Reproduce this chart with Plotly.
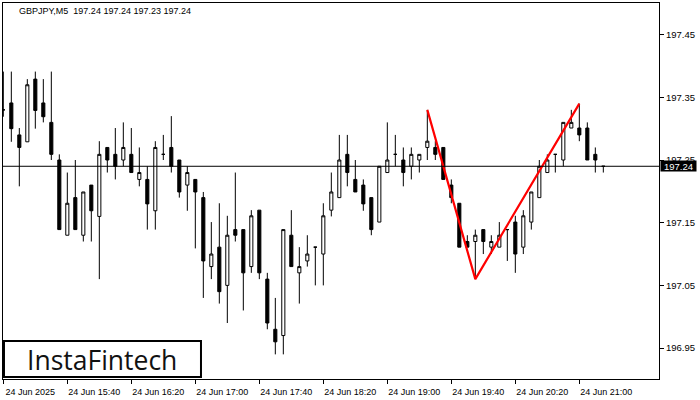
import plotly.graph_objects as go

# ---- data (GBPJPY M5, 24 Jun 2025, 15:00 .. 21:15) ----
bar_index = list(range(76))
opens = [197.330, 197.341, 197.290, 197.279, 197.379, 197.341, 197.310, 197.250, 197.130, 197.190,
         197.130, 197.210, 197.160, 197.270, 197.259, 197.250, 197.259, 197.219, 197.219, 197.169,
         197.259, 197.270, 197.250, 197.210, 197.219, 197.190, 197.080, 197.111, 197.050, 197.139,
         197.139, 197.080, 197.170, 197.060, 196.980, 196.970, 197.130, 197.070, 197.089, 197.111,
         197.100, 197.170, 197.190, 197.259, 197.219, 197.210, 197.190, 197.151, 197.230, 197.259,
         197.250, 197.240, 197.250, 197.270, 197.270, 197.270, 197.210, 197.181, 197.120, 197.120,
         197.139, 197.111, 197.111, 197.139, 197.151, 197.111, 197.151, 197.190, 197.230, 197.259,
         197.250, 197.301, 197.301, 197.301, 197.259, 197.240]
highs = [197.391, 197.391, 197.301, 197.379, 197.391, 197.379, 197.391, 197.259, 197.230, 197.250,
         197.199, 197.210, 197.280, 197.270, 197.301, 197.310, 197.301, 197.270, 197.240, 197.280,
         197.290, 197.320, 197.250, 197.240, 197.219, 197.199, 197.151, 197.181, 197.161, 197.230,
         197.139, 197.170, 197.170, 197.070, 197.030, 197.139, 197.170, 197.111, 197.130, 197.111,
         197.181, 197.230, 197.290, 197.290, 197.250, 197.219, 197.190, 197.240, 197.310, 197.290,
         197.270, 197.270, 197.259, 197.330, 197.280, 197.270, 197.219, 197.181, 197.130, 197.139,
         197.139, 197.130, 197.151, 197.139, 197.161, 197.170, 197.199, 197.250, 197.259, 197.259,
         197.310, 197.330, 197.340, 197.310, 197.270, 197.240]
lows = [197.319, 197.279, 197.208, 197.279, 197.300, 197.310, 197.250, 197.139, 197.130, 197.139,
        197.120, 197.120, 197.060, 197.230, 197.219, 197.240, 197.230, 197.208, 197.139, 197.139,
        197.250, 197.230, 197.190, 197.169, 197.109, 197.030, 197.060, 197.021, 196.990, 197.120,
        197.010, 197.070, 197.060, 196.980, 196.940, 196.940, 197.080, 197.021, 197.080, 197.050,
        197.050, 197.160, 197.190, 197.208, 197.199, 197.169, 197.130, 197.151, 197.230, 197.240,
        197.208, 197.219, 197.230, 197.250, 197.250, 197.219, 197.181, 197.111, 197.111, 197.060,
        197.100, 197.100, 197.111, 197.089, 197.070, 197.100, 197.139, 197.190, 197.230, 197.230,
        197.240, 197.301, 197.280, 197.250, 197.230, 197.230]
closes = [197.330, 197.300, 197.270, 197.370, 197.329, 197.319, 197.259, 197.139, 197.181, 197.139,
          197.199, 197.169, 197.259, 197.250, 197.240, 197.270, 197.230, 197.230, 197.180, 197.270,
          197.259, 197.240, 197.199, 197.230, 197.199, 197.089, 197.100, 197.040, 197.130, 197.130,
          197.070, 197.161, 197.070, 196.990, 196.960, 197.139, 197.080, 197.080, 197.100, 197.111,
          197.161, 197.199, 197.250, 197.230, 197.199, 197.180, 197.139, 197.240, 197.250, 197.259,
          197.230, 197.259, 197.259, 197.280, 197.259, 197.219, 197.190, 197.111, 197.111, 197.130,
          197.120, 197.120, 197.130, 197.139, 197.100, 197.161, 197.199, 197.240, 197.250, 197.259,
          197.310, 197.310, 197.290, 197.250, 197.250, 197.240]

tick_positions = [0, 8, 16, 24, 32, 40, 48, 56, 64, 72]
tick_labels = ["24 Jun 2025", "24 Jun 15:40", "24 Jun 16:20", "24 Jun 17:00", "24 Jun 17:40",
               "24 Jun 18:20", "24 Jun 19:00", "24 Jun 19:40", "24 Jun 20:20", "24 Jun 21:00"]
price_ticks = [196.95, 197.05, 197.15, 197.25, 197.35, 197.45]

pattern_x = [53, 59, 72]
pattern_y = [197.33, 197.06, 197.34]

current_price = 197.24
title_text = "GBPJPY,M5\u00a0 197.24 197.24 197.23 197.24"
logo_text = "InstaFintech"

FONT = "Liberation Sans, Arial, sans-serif"

fig = go.Figure()
fig.add_trace(go.Candlestick(
    x=bar_index, open=opens, high=highs, low=lows, close=closes,
    increasing=dict(line=dict(color="black", width=1), fillcolor="white"),
    decreasing=dict(line=dict(color="black", width=1), fillcolor="black"),
    whiskerwidth=0, showlegend=False, hoverinfo="skip",
))
fig.add_trace(go.Scatter(
    x=pattern_x, y=pattern_y, mode="lines",
    line=dict(color="#ff0000", width=2.2), showlegend=False, hoverinfo="skip",
))

fig.add_shape(type="line", xref="paper", x0=0, x1=1, yref="y", y0=current_price, y1=current_price,
              line=dict(color="black", width=1))

# logo box
fig.add_shape(type="rect", xref="paper", yref="paper",
              x0=0.0015, x1=0.3018, y0=0.0053, y1=0.1011,
              line=dict(color="black", width=2), fillcolor="white", layer="above")
fig.add_annotation(xref="paper", yref="paper", x=0.151, y=0.050, text=logo_text,
                   showarrow=False, font=dict(family="Open Sans, Lato, sans-serif", size=26.5, color="#111111"),
                   xanchor="center", yanchor="middle")

# title
fig.add_annotation(xref="paper", yref="paper", x=0, y=1, xshift=14, yshift=-1,
                   xanchor="left", yanchor="top", text=title_text, showarrow=False,
                   font=dict(family=FONT, size=9, color="black"))

# current price label
fig.add_annotation(xref="paper", yref="y", x=1, y=current_price, xanchor="left", yanchor="middle",
                   xshift=1, text=str(current_price), showarrow=False,
                   font=dict(family=FONT, size=9.5, color="white"),
                   bgcolor="black", width=34, height=9, borderpad=0.5, align="center")

fig.update_layout(
    width=700, height=400,
    margin=dict(l=3, r=41, t=3, b=21),
    paper_bgcolor="white", plot_bgcolor="white",
    boxgap=0.45,
    font=dict(family=FONT, size=9, color="black"),
    xaxis=dict(
        range=[-0.04, 81.96], rangeslider=dict(visible=False),
        tickmode="array", tickvals=tick_positions, ticktext=tick_labels,
        ticks="outside", ticklen=4, tickwidth=1, tickcolor="black",
        ticklabelshift=27, ticklabelstandoff=0,
        showline=True, linecolor="black", linewidth=1, mirror=True,
        showgrid=False, zeroline=False, automargin=False,
        tickfont=dict(family=FONT, size=9, color="black"),
    ),
    yaxis=dict(
        side="right", range=[196.9007, 197.5004],
        tickmode="array", tickvals=price_ticks, tickformat=".2f",
        ticks="outside", ticklen=4, tickwidth=1, tickcolor="black",
        showline=True, linecolor="black", linewidth=1, mirror=True,
        showgrid=False, zeroline=False, automargin=False,
        tickfont=dict(family=FONT, size=9.5, color="black"),
    ),
)

fig.write_html("out.html", config={"displayModeBar": False},
               post_script="document.body.style.margin='0';document.body.style.padding='0';"
                           "document.body.style.overflow='hidden';")
